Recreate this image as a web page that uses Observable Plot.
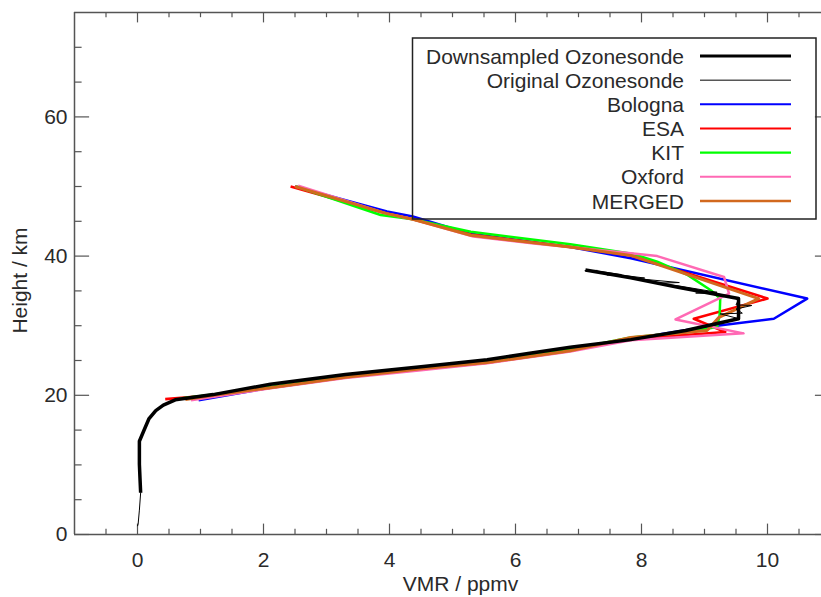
<!DOCTYPE html>
<html>
<head>
<meta charset="utf-8">
<script src="https://cdn.jsdelivr.net/npm/d3@7"></script>
<script src="https://cdn.jsdelivr.net/npm/@observablehq/plot@0.6"></script>
<style>
  html, body { margin: 0; padding: 0; background: #fff; }
  #chart svg { display: block; }
</style>
</head>
<body>
<div id="chart"></div>
<script>
// ---------------- data (VMR in ppmv, height in km) ----------------
const downsampledVmr    = [0.05, 0.04, 0.03, 0.03, 0.10, 0.18, 0.29, 0.41, 0.60, 1.20, 2.11, 3.30, 4.50, 5.55, 6.20, 6.87, 7.83, 8.70, 9.54, 9.54, 8.60, 7.83, 7.11];
const downsampledHeight = [6.0, 8.0, 10.1, 13.4, 14.9, 16.6, 17.8, 18.6, 19.35, 20.1, 21.6, 23.0, 24.1, 25.1, 26.0, 26.9, 28.0, 29.3, 31.0, 33.9, 35.5, 36.9, 38.0];

const originalVmr    = [0.00, 0.01, 0.03, 0.05, 0.04, 0.03, 0.03, 0.10, 0.18, 0.29, 0.41, 0.60, 1.20, 2.11, 3.30, 4.50, 5.55, 6.20, 6.87, 7.83, 8.70, 9.30, 9.55, 9.25, 9.60, 9.50, 9.75, 9.50, 9.55, 9.20, 8.86, 9.20, 8.60, 8.20, 8.60, 8.00, 7.80, 8.05, 7.65, 7.45, 7.68, 7.30, 7.10, 7.30];
const originalHeight = [1.2, 1.5, 3.5, 6.0, 8.0, 10.1, 13.4, 14.9, 16.6, 17.8, 18.6, 19.35, 20.1, 21.6, 23.0, 24.1, 25.1, 26.0, 26.9, 28.0, 29.3, 30.4, 31.0, 31.7, 31.8, 32.4, 32.9, 33.0, 33.9, 34.6, 34.7, 34.8, 35.7, 36.1, 36.2, 36.7, 36.8, 36.85, 37.3, 37.3, 37.35, 37.85, 37.9, 37.95];

const bolognaVmr    = [0.97, 2.11, 3.30, 4.50, 5.55, 6.87, 7.83, 8.94, 10.10, 10.63, 7.83, 6.87, 5.29, 4.37, 3.96, 2.50];
const bolognaHeight = [19.3, 21.1, 22.6, 23.8, 24.8, 26.5, 28.1, 29.7, 31.0, 33.9, 39.7, 41.3, 43.2, 45.7, 46.4, 50.0];

const esaVmr    = [0.44, 1.20, 2.11, 3.30, 4.50, 5.55, 6.87, 7.83, 9.33, 8.83, 10.00, 7.83, 6.87, 5.29, 4.37, 3.96, 2.43];
const esaHeight = [19.45, 20.0, 21.1, 22.6, 23.7, 24.7, 26.4, 28.1, 29.1, 31.0, 33.9, 40.1, 41.3, 43.1, 45.3, 46.1, 50.0];

const kitVmr    = [0.68, 1.20, 2.11, 3.30, 4.50, 5.55, 6.87, 7.83, 8.73, 9.20, 9.24, 9.25, 9.10, 8.73, 8.25, 7.87, 6.87, 5.29, 4.37, 3.86, 2.52];
const kitHeight = [19.55, 20.1, 21.2, 22.7, 23.8, 24.8, 26.6, 28.3, 29.1, 29.8, 31.5, 33.9, 35.1, 37.3, 39.2, 40.3, 41.7, 43.5, 45.3, 45.9, 50.0];

const oxfordVmr    = [0.85, 2.11, 3.30, 4.50, 5.55, 6.87, 7.83, 9.62, 8.54, 9.39, 9.31, 8.25, 7.83, 6.29, 5.33, 4.37, 3.96, 2.55];
const oxfordHeight = [19.3, 21.0, 22.5, 23.6, 24.6, 26.3, 27.9, 28.9, 30.9, 34.6, 37.0, 40.0, 40.4, 41.8, 42.8, 45.3, 46.1, 50.1];

const mergedVmr    = [0.76, 1.20, 2.11, 3.30, 4.50, 5.55, 6.87, 7.83, 9.04, 9.23, 9.86, 7.83, 6.87, 5.29, 4.37, 3.96, 2.50];
const mergedHeight = [19.4, 20.0, 21.1, 22.6, 23.8, 24.7, 26.4, 28.3, 29.3, 31.2, 33.9, 40.1, 41.3, 43.0, 45.3, 46.1, 50.0];

// tick values
const xTickLabels = [0, 2, 4, 6, 8, 10];
const xMinorTicks = [-0.5, 0.5, 1, 1.5, 2.5, 3, 3.5, 4.5, 5, 5.5, 6.5, 7, 7.5, 8.5, 9, 9.5, 10.5];
const yTickLabels = [0, 20, 40, 60];
const yMinorTicks = [5, 10, 15, 25, 30, 35, 45, 50, 55, 65, 70];

const legendNames = ["Downsampled Ozonesonde", "Original Ozonesonde", "Bologna", "ESA", "KIT", "Oxford", "MERGED"];

// ---------------- styles ----------------
const styles = {
  "Downsampled Ozonesonde": {stroke: "#000000", width: 3.5, legendWidth: 3.2},
  "Original Ozonesonde":    {stroke: "#000000", width: 1,   legendWidth: 1},
  "Bologna":                {stroke: "#0000ff", width: 2.5, legendWidth: 2},
  "ESA":                    {stroke: "#ff0000", width: 2.6, legendWidth: 2.2},
  "KIT":                    {stroke: "#00ff00", width: 2.5, legendWidth: 2.2},
  "Oxford":                 {stroke: "#ff69b4", width: 2.5, legendWidth: 2},
  "MERGED":                 {stroke: "#d2691e", width: 3,   legendWidth: 2.6}
};

const toRows = (vmr, h) => vmr.map((v, i) => ({vmr: v, h: h[i]}));
const series = {
  "Bologna": toRows(bolognaVmr, bolognaHeight),
  "ESA": toRows(esaVmr, esaHeight),
  "KIT": toRows(kitVmr, kitHeight),
  "Oxford": toRows(oxfordVmr, oxfordHeight),
  "MERGED": toRows(mergedVmr, mergedHeight),
  "Original Ozonesonde": toRows(originalVmr, originalHeight),
  "Downsampled Ozonesonde": toRows(downsampledVmr, downsampledHeight)
};
const drawOrder = ["Bologna", "ESA", "KIT", "Oxford", "MERGED", "Original Ozonesonde", "Downsampled Ozonesonde"];

const axisColor = "#555";
const textColor = "#2a2a2a";
const FONT = "'Liberation Sans', Arial, Helvetica, sans-serif";
const xMajorLen = 10.4, xMinorLen = 5.2, yMajorLen = 15.1, yMinorLen = 7.6;

const marks = [
  // frame (left, right, bottom, top)
  Plot.ruleX([-1], {stroke: axisColor, strokeWidth: 1.5}),
  Plot.ruleX([11], {stroke: axisColor, strokeWidth: 1.5}),
  Plot.ruleY([0], {stroke: axisColor, strokeWidth: 1.5}),
  Plot.ruleY([75], {stroke: axisColor, strokeWidth: 1.5}),
  // bottom ticks (inward)
  Plot.ruleX(xTickLabels, {x: d => d, y1: 0, y2: 0, insetTop: -xMajorLen, stroke: axisColor, strokeWidth: 1.2}),
  Plot.ruleX(xMinorTicks, {x: d => d, y1: 0, y2: 0, insetTop: -xMinorLen, stroke: axisColor, strokeWidth: 1.2}),
  // top ticks
  Plot.ruleX(xTickLabels, {x: d => d, y1: 75, y2: 75, insetBottom: -xMajorLen, stroke: axisColor, strokeWidth: 1.2}),
  Plot.ruleX(xMinorTicks, {x: d => d, y1: 75, y2: 75, insetBottom: -xMinorLen, stroke: axisColor, strokeWidth: 1.2}),
  // left ticks
  Plot.ruleY(yTickLabels, {y: d => d, x1: -1, x2: -1, insetRight: -yMajorLen, stroke: axisColor, strokeWidth: 1.2}),
  Plot.ruleY(yMinorTicks, {y: d => d, x1: -1, x2: -1, insetRight: -yMinorLen, stroke: axisColor, strokeWidth: 1.2}),
  // right ticks
  Plot.ruleY(yTickLabels, {y: d => d, x1: 11, x2: 11, insetLeft: -yMajorLen, stroke: axisColor, strokeWidth: 1.2}),
  Plot.ruleY(yMinorTicks, {y: d => d, x1: 11, x2: 11, insetLeft: -yMinorLen, stroke: axisColor, strokeWidth: 1.2}),
  // profiles
  ...drawOrder.map(name => Plot.line(series[name], {
    x: "vmr", y: "h", stroke: styles[name].stroke, strokeWidth: styles[name].width,
    strokeLinejoin: "round", strokeLinecap: "butt"
  })),
  // tick labels
  Plot.text(xTickLabels, {x: d => d, y: 0, dy: 26, text: d => String(d), fontSize: 21, fill: textColor}),
  Plot.text(yTickLabels, {x: -1, y: d => d, dx: -7, text: d => String(d), textAnchor: "end", fontSize: 21, fill: textColor}),
  // axis titles
  Plot.text(["VMR / ppmv"], {frameAnchor: "bottom", lineAnchor: "middle", textAnchor: "middle", dx: 8, dy: 50, text: d => d, fontSize: 21, fill: textColor}),
  Plot.text(["Height / km"], {frameAnchor: "left", lineAnchor: "middle", textAnchor: "middle", dx: -54, dy: 7, rotate: -90, text: d => d, fontSize: 21, fill: textColor})
];

const plot = Plot.plot({
  width: 821,
  height: 597,
  marginLeft: 74,
  marginRight: -9,
  marginTop: 12,
  marginBottom: 63,
  x: {domain: [-1, 11], axis: null},
  y: {domain: [0, 75], axis: null},
  style: {fontFamily: FONT, fontSize: "21px", background: "#fff", color: textColor, overflow: "hidden"},
  marks
});

// ---------------- legend (boxed, top right) ----------------
const svg = d3.select(plot);
const lg = svg.append("g").attr("class", "legend");
lg.append("rect")
  .attr("x", 412.5).attr("y", 38).attr("width", 403.5).attr("height", 181)
  .attr("fill", "none").attr("stroke", "#222").attr("stroke-width", 1.5);
legendNames.forEach((name, i) => {
  const y = 56 + i * 24.17;
  lg.append("line")
    .attr("x1", 700).attr("x2", 791).attr("y1", y).attr("y2", y)
    .attr("stroke", styles[name].stroke).attr("stroke-width", styles[name].legendWidth);
  lg.append("text")
    .attr("x", 684).attr("y", y).attr("dy", "0.36em")
    .attr("text-anchor", "end")
    .attr("font-family", FONT).attr("font-size", 21)
    .attr("fill", textColor)
    .text(name);
});

document.getElementById("chart").appendChild(plot);
</script>
</body>
</html>
